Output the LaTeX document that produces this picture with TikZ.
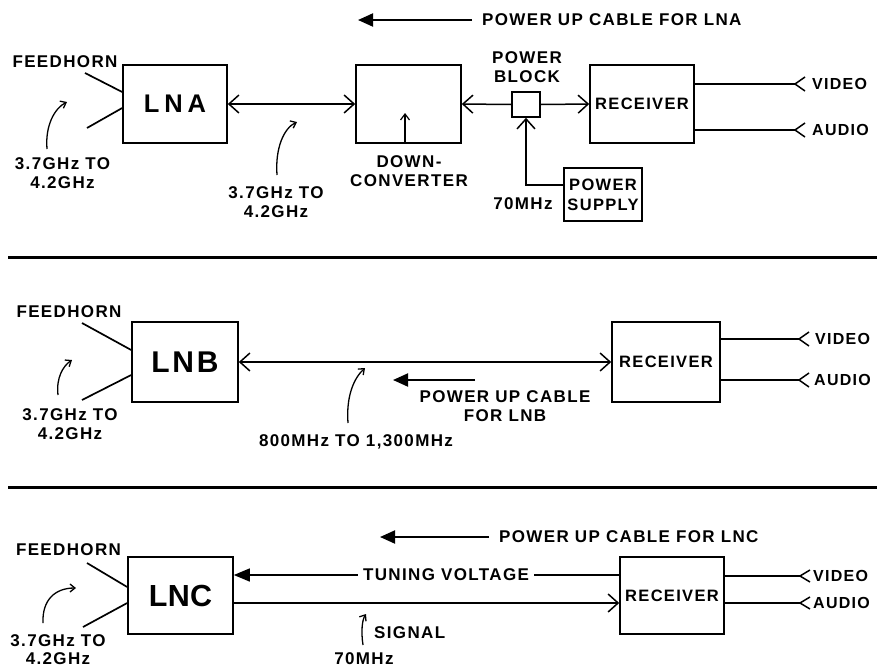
\documentclass[tikz,border=0pt]{standalone}
\usepackage{fontspec}
\setmainfont{Liberation Sans}[LetterSpace=8]
\usetikzlibrary{arrows.meta,calc}
\tikzset{
  boxnode/.style={draw, line width=1.6pt, inner sep=0pt, font=\bfseries\fontsize{16.5}{20}\selectfont, align=center},
  lbl/.style={font=\bfseries\fontsize{17}{19}\selectfont, inner sep=0pt, align=center},
  av/.style={font=\bfseries\fontsize{16}{19}\selectfont, inner sep=0pt, anchor=west},
  conn/.style={line width=1.5pt},
  barb/.style={conn, -{Straight Barb[length=10pt,width=18pt]}},
  dbarb/.style={conn, {Straight Barb[length=10pt,width=18pt]}-{Straight Barb[length=10pt,width=18pt]}},
  smallbarb/.style={line width=1.2pt, -{Straight Barb[length=6pt,width=9pt]}},
  curv/.style={line width=1.3pt, -{Straight Barb[length=5pt,width=8pt]}},
  pwr/.style={line width=2pt, -{Triangle[length=15pt,width=13pt]}},
  tvarrow/.style={line width=1.5pt, -{Triangle[length=16pt,width=13pt]}},
  horn/.style={line width=1.7pt},
  sepline/.style={line width=3pt},
  bigA/.style={font=\bfseries\fontsize{25.5}{30}\selectfont\addfontfeatures{LetterSpace=19}},
  bigB/.style={font=\bfseries\fontsize{30}{34}\selectfont\addfontfeatures{LetterSpace=9}},
  bigC/.style={font=\bfseries\fontsize{30.5}{34}\selectfont\addfontfeatures{LetterSpace=1}},
}
\begin{document}
\begin{tikzpicture}[x=1pt,y=-1pt]
\useasboundingbox[fill=white] (0,0) rectangle (877,667);

% ================= Panel 1 =================
\coordinate (p1a) at (358,20);
\coordinate (p1b) at (472,20);
\draw[pwr] (p1b) -- (p1a);
\node[lbl, anchor=west] (p1t) at (482,20) {POWER UP CABLE FOR LNA};

\node[lbl] (fh1) at (65,62) {FEEDHORN};
\node[boxnode, bigA, minimum width=104pt, minimum height=78pt] (lna) at (175,104) {LNA};
\coordinate (h1a) at (85,73);
\coordinate (h1b) at (87,128);
\draw[horn] (h1a) -- ($(lna.west)+(0,-12)$);
\draw[horn] (h1b) -- ($(lna.west)+(0,4)$);

\node[lbl] (f1t) at (62.5,173.5) {3.7GHz TO\\4.2GHz};
\coordinate (c1a) at (47,149);
\coordinate (c1b) at (67,102);
\draw[curv] (c1a) .. controls (45,125) and (55,108) .. (c1b);

\node[boxnode, minimum width=105pt, minimum height=78pt] (dc) at (408.5,104) {};
\node[lbl] (dct) at (409,171) {DOWN-\\CONVERTER};
\coordinate (dcin) at (405,113);
\draw[smallbarb] (dcin |- dc.south) -- (dcin);

\draw[dbarb] (lna.east) -- (dc.west);
\node[lbl] (f2t) at (276,202.5) {3.7GHz TO\\4.2GHz};
\coordinate (c2a) at (277,175);
\coordinate (c2b) at (297,122);
\draw[curv] (c2a) .. controls (275,148) and (284,128) .. (c2b);

\node[boxnode, minimum width=28pt, minimum height=25pt] (pb) at (526,104.5) {};
\node[lbl] (pbt) at (527,67.5) {POWER\\BLOCK};
\node[boxnode, minimum width=104pt, minimum height=78pt] (rx1) at (642,104) {RECEIVER};
\node[boxnode, minimum width=78pt, minimum height=53pt] (ps) at (603,194.5) {POWER\\SUPPLY};
\node[lbl] (mhz1) at (523,204) {70MHz};
\coordinate (psc) at (526,185);
\draw[barb] (ps.west |- psc) -- (psc) -- (pb.south);
\draw[barb] (pb.west) -- (dc.east);
\draw[barb] (pb.east) -- (rx1.west);

\coordinate (v1) at (795,84);
\coordinate (a1) at (795,130);
\draw[conn] (rx1.east |- v1) -- (v1);
\draw[conn] (rx1.east |- a1) -- (a1);
\draw[conn] ($(v1)+(10,-7)$) -- (v1) -- ($(v1)+(10,7)$);
\draw[conn] ($(a1)+(10,-7)$) -- (a1) -- ($(a1)+(10,7)$);
\node[av] (v1t) at (812,84) {VIDEO};
\node[av] (a1t) at (812,130) {AUDIO};

% separator
\coordinate (s1a) at (8,257);
\coordinate (s1b) at (877,257);
\draw[sepline] (s1a) -- (s1b);

% ================= Panel 2 =================
\node[lbl] (fh2) at (69,312) {FEEDHORN};
\node[boxnode, bigB, minimum width=106pt, minimum height=80pt] (lnb) at (185,362) {LNB};
\coordinate (h2a) at (82,323);
\coordinate (h2b) at (82,400);
\draw[horn] (h2a) -- ($(lnb.west)+(0,-12)$);
\draw[horn] (h2b) -- ($(lnb.west)+(0,13)$);
\node[lbl] (f3t) at (70,424) {3.7GHz TO\\4.2GHz};
\coordinate (c3a) at (58,395);
\coordinate (c3b) at (72,360);
\draw[curv] (c3a) .. controls (56,378) and (63,366) .. (c3b);

\node[boxnode, minimum width=108pt, minimum height=80pt] (rx2) at (666,362) {RECEIVER};
\draw[dbarb] (lnb.east) -- (rx2.west);

\node[lbl] (m2t) at (356,442) {800MHz TO 1,300MHz};
\coordinate (c4a) at (348,423);
\coordinate (c4b) at (365,368);
\draw[curv] (c4a) .. controls (346,396) and (354,378) .. (c4b);

\coordinate (p2a) at (393,380);
\coordinate (p2b) at (475,380);
\draw[pwr] (p2b) -- (p2a);
\node[lbl] (p2t) at (505,406) {POWER UP CABLE\\FOR LNB};

\coordinate (v2) at (799,339);
\coordinate (a2) at (799,380);
\draw[conn] (rx2.east |- v2) -- (v2);
\draw[conn] (rx2.east |- a2) -- (a2);
\draw[conn] ($(v2)+(10,-7)$) -- (v2) -- ($(v2)+(10,7)$);
\draw[conn] ($(a2)+(10,-7)$) -- (a2) -- ($(a2)+(10,7)$);
\node[av] (v2t) at (815,339) {VIDEO};
\node[av] (a2t) at (814,380) {AUDIO};

% separator
\coordinate (s2a) at (8,487);
\coordinate (s2b) at (877,487);
\draw[sepline] (s2a) -- (s2b);

% ================= Panel 3 =================
\coordinate (p3a) at (380,537);
\coordinate (p3b) at (489,537);
\draw[pwr] (p3b) -- (p3a);
\node[lbl, anchor=west] (p3t) at (499,537) {POWER UP CABLE FOR LNC};

\node[lbl] (fh3) at (68.5,550) {FEEDHORN};
\node[boxnode, bigC, minimum width=105pt, minimum height=77pt] (lnc) at (180.5,595.5) {LNC};
\coordinate (h3a) at (87,563);
\coordinate (h3b) at (83,627);
\draw[horn] (h3a) -- ($(lnc.west)+(0,-8.5)$);
\draw[horn] (h3b) -- ($(lnc.west)+(0,7.5)$);
\node[lbl, font=\bfseries\fontsize{17}{18}\selectfont] (f5t) at (58,650) {3.7GHz TO\\4.2GHz};
\coordinate (c5a) at (43,623);
\coordinate (c5b) at (76,588);
\draw[curv] (c5a) .. controls (42,600) and (55,588) .. (c5b);

\node[boxnode, minimum width=104pt, minimum height=77pt] (rx3) at (672,595.5) {RECEIVER};
\coordinate (tv) at (0,575);
\coordinate (sg) at (0,603);
\draw[tvarrow] (rx3.west |- tv) -- (lnc.east |- tv);
\node[lbl, fill=white, inner xsep=5pt, inner ysep=2pt] (tvt) at (446,575) {TUNING VOLTAGE};
\draw[barb] (lnc.east |- sg) -- (rx3.west |- sg);

\node[lbl, anchor=west] (sgt) at (374,633) {SIGNAL};
\node[lbl] (m3t) at (364,659) {70MHz};
\coordinate (c6a) at (363,645);
\coordinate (c6b) at (366,614);
\draw[curv] (c6a) .. controls (361,632) and (362,620) .. (c6b);

\coordinate (v3) at (800,576);
\coordinate (a3) at (800,603);
\draw[conn] (rx3.east |- v3) -- (v3);
\draw[conn] (rx3.east |- a3) -- (a3);
\draw[conn] ($(v3)+(10,-6)$) -- (v3) -- ($(v3)+(10,6)$);
\draw[conn] ($(a3)+(10,-6)$) -- (a3) -- ($(a3)+(10,6)$);
\node[av] (v3t) at (813,576) {VIDEO};
\node[av] (a3t) at (813,603) {AUDIO};
\end{tikzpicture}
\end{document}
